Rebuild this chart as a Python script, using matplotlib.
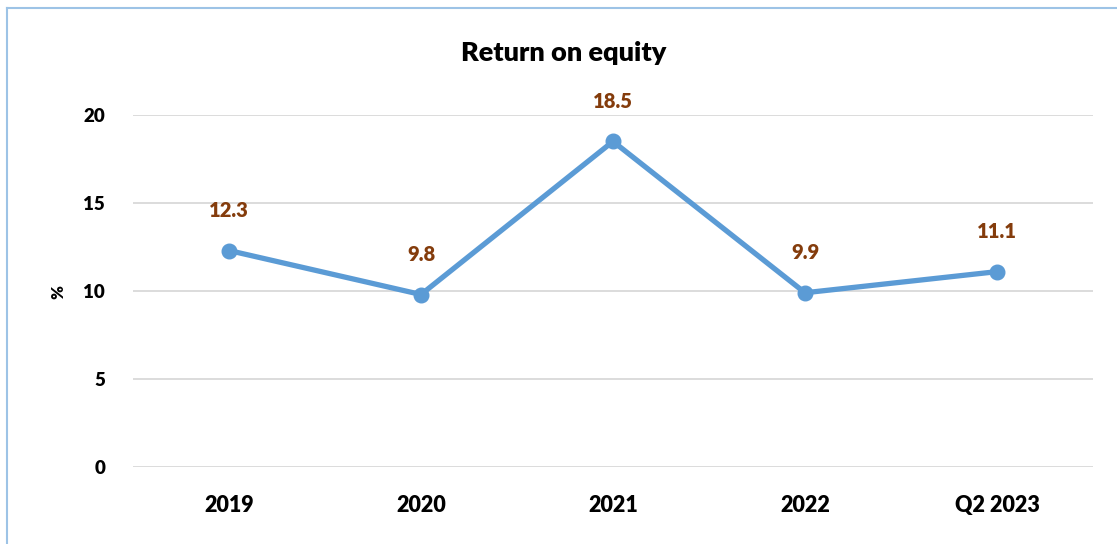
import matplotlib
matplotlib.use("Agg")
import matplotlib.pyplot as plt
from matplotlib.lines import Line2D

categories = ["2019", "2020", "2021", "2022", "Q2 2023"]
roe = [12.3, 9.8, 18.5, 9.9, 11.1]
yticks = [0, 5, 10, 15, 20]

plt.rcParams['font.family'] = ['Lato', 'DejaVu Sans']

W, H = 1117, 544
fig = plt.figure(figsize=(W/100, H/100), dpi=100)
ax = fig.add_axes([133/W, (H-467)/H, (1093-133)/W, (467-115)/H])

x = list(range(len(categories)))
ax.plot(x, roe, color='#5B9BD5', lw=3.8, marker='o', ms=10.5, solid_capstyle='round', zorder=3)
for xi, v in zip(x, roe):
    ax.annotate(f"{v:.1f}", (xi, v), xytext=(0, 29), textcoords='offset points',
                ha='center', va='center', color='#843C0C', fontsize=14.5, fontweight='heavy')

ax.set_xlim(-0.5, len(categories)-0.5)
ax.set_ylim(0, 20)
ax.set_yticks(yticks)
ax.set_yticklabels([str(t) for t in yticks], fontsize=13.5, fontweight='heavy')
ax.set_xticks(x)
ax.set_xticklabels(categories, fontsize=15.5, fontweight='heavy')
ax.tick_params(axis='y', length=0, pad=20)
ax.tick_params(axis='x', length=0, pad=20)
ax.grid(axis='y', color='#D9D9D9', lw=1.3)
ax.set_axisbelow(True)
for s in ax.spines.values():
    s.set_visible(False)

fig.text(58/W, (H-292)/H, "%", rotation=90, ha='center', va='center', fontsize=12, fontweight='heavy')
fig.text(564/W, (H-53)/H, "Return on equity", ha='center', va='center', fontsize=19.5, fontweight='heavy')

fig.add_artist(Line2D([7/W, 1], [(H-8)/H, (H-8)/H], color='#9DC3E6', lw=1.5, transform=fig.transFigure))
fig.add_artist(Line2D([7/W, 7/W], [0, (H-8)/H], color='#9DC3E6', lw=1.5, transform=fig.transFigure))

fig.savefig("out.png", dpi=100)
